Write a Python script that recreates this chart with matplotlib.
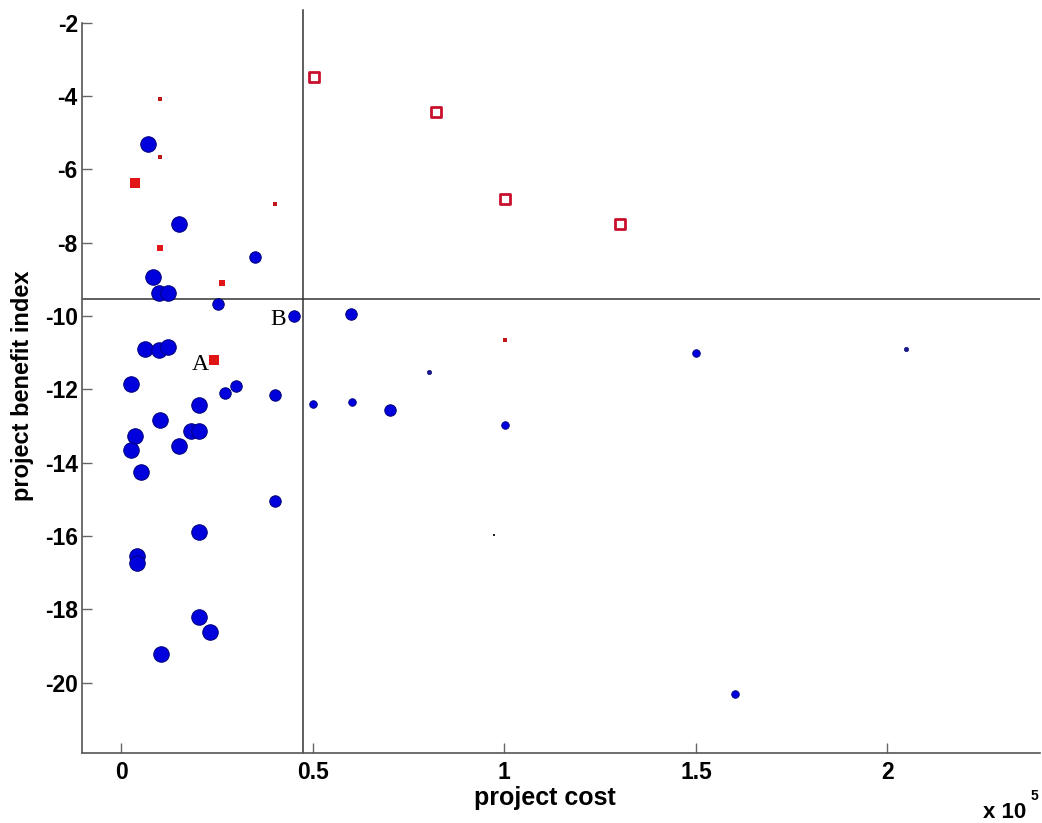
import numpy as np
import matplotlib.pyplot as plt
from matplotlib.ticker import FuncFormatter

# --- data: project cost vs. project benefit index ---
# blue circles, grouped by marker size class
blue_large_x = [7000, 15200, 8200, 10000, 12300, 6300, 10000, 12300, 2600, 10200,
                20300, 3700, 2600, 5100, 15200, 18200, 20400, 20300, 4100, 4100,
                20300, 23300, 10400]
blue_large_y = [-5.31, -7.48, -8.93, -9.38, -9.38, -10.91, -10.94, -10.84, -11.85, -12.83,
                -12.44, -13.26, -13.66, -14.25, -13.55, -13.13, -13.13, -15.88, -16.54, -16.74,
                -18.21, -18.62, -19.21]
blue_medium_x = [35000, 25300, 45100, 60100, 27000, 30100, 40200, 40200, 70200]
blue_medium_y = [-8.39, -9.67, -9.99, -9.94, -12.09, -11.91, -12.16, -15.05, -12.57]
blue_small_x = [50200, 60300, 100200, 150000, 160200]
blue_small_y = [-12.39, -12.34, -12.97, -11.01, -20.31]
blue_tiny_x = [80300, 204800]
blue_tiny_y = [-11.52, -10.90]
dark_dot_x = [97400]
dark_dot_y = [-15.98]

# red squares
red_large_x = [3600, 24300]
red_large_y = [-6.36, -11.20]
red_small_x = [10200, 26400]
red_small_y = [-8.14, -9.09]
red_tiny_x = [10200, 10200, 40100, 100200]
red_tiny_y = [-4.08, -5.65, -6.94, -10.65]
red_open_x = [50300, 82300, 100300, 130200]
red_open_y = [-3.49, -4.44, -6.80, -7.48]

# threshold lines
cost_limit = 47400
benefit_limit = -9.53

x_ticks = [0, 50000, 100000, 150000, 200000]
y_ticks = [-20, -18, -16, -14, -12, -10, -8, -6, -4, -2]

plt.rcParams['font.family'] = ['Liberation Sans', 'DejaVu Sans']

fig = plt.figure(figsize=(10.42, 8.23), dpi=100)
ax = fig.add_axes([82 / 1042, 1 - 753 / 823, (1040 - 82) / 1042, (753 - 22.7) / 823])

blue_face = '#0000dd'
blue_edge = '#00007a'
ax.scatter(blue_large_x, blue_large_y, s=125, c=blue_face, edgecolors=blue_edge, linewidths=0.7, zorder=3)
ax.scatter(blue_medium_x, blue_medium_y, s=68, c=blue_face, edgecolors=blue_edge, linewidths=0.7, zorder=3)
ax.scatter(blue_small_x, blue_small_y, s=30, c=blue_face, edgecolors=blue_edge, linewidths=0.6, zorder=3)
ax.scatter(blue_tiny_x, blue_tiny_y, s=10, c='#1a1a99', edgecolors='#000060', linewidths=0.4, zorder=3)
ax.scatter(dark_dot_x, dark_dot_y, s=2, c='#222222', marker='s', linewidths=0, zorder=3)

red = '#e01515'
ax.scatter(red_large_x, red_large_y, s=42, c=red, marker='s', linewidths=0, zorder=3)
ax.scatter(red_small_x, red_small_y, s=20, c=red, marker='s', linewidths=0, zorder=3)
ax.scatter(red_tiny_x, red_tiny_y, s=5, c='#c01818', marker='s', linewidths=0, zorder=3)
ax.scatter(red_open_x, red_open_y, s=45, c='white', marker='s', edgecolors='#c8102e',
           linewidths=2.0, zorder=3)

ax.plot([cost_limit, cost_limit], [-21.92, -1.65], color='#333333', lw=1.1, clip_on=False, zorder=2)
ax.axhline(benefit_limit, color='#333333', lw=1.1, zorder=2)

ax.text(20610, -11.47, 'A', family='Liberation Serif', fontsize=17, ha='center', va='baseline')
ax.text(40960, -10.24, 'B', family='Liberation Serif', fontsize=17, ha='center', va='baseline')

ax.set_xlim(-10200, 239800)
ax.set_ylim(-21.92, -2.0)
ax.set_xticks(x_ticks)
ax.set_yticks(y_ticks)
ax.xaxis.set_major_formatter(FuncFormatter(lambda v, p: '%g' % (v / 1e5)))
ax.yaxis.set_major_formatter(FuncFormatter(lambda v, p: '%d' % v))

for side in ['top', 'right']:
    ax.spines[side].set_visible(False)
for side in ['left', 'bottom']:
    ax.spines[side].set_color('#555555')
    ax.spines[side].set_linewidth(1.2)

ax.tick_params(direction='in', length=7, width=1, color='#666666', labelsize=16.5)
ax.tick_params(axis='x', pad=6)
ax.tick_params(axis='y', pad=3)
for lbl in ax.get_xticklabels() + ax.get_yticklabels():
    lbl.set_fontweight('bold')

fig.text(23 / 1042, 1 - 386 / 823, 'project benefit index', rotation=90,
         ha='center', va='center', fontsize=17, fontweight='bold')
fig.text(545 / 1042, 1 - 798 / 823, 'project cost', ha='center', va='center',
         fontsize=18, fontweight='bold')
fig.text(983 / 1042, 1 - 818 / 823, 'x 10', ha='left', va='baseline', fontsize=16, fontweight='bold')
fig.text(1031 / 1042, 1 - 800 / 823, '5', ha='left', va='baseline', fontsize=10, fontweight='bold')

fig.savefig('out.png', dpi=100)
